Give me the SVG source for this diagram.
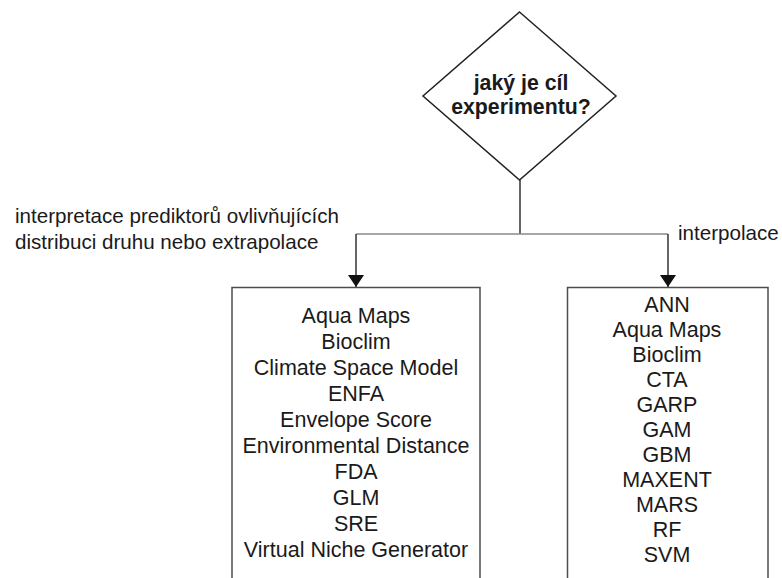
<svg xmlns="http://www.w3.org/2000/svg" width="782" height="578" viewBox="0 0 782 578">
<style>
text{font-family:"Liberation Sans",Arial,sans-serif;font-size:21.5px;fill:#1a1a1a}
.c{text-anchor:middle}
.b{font-weight:bold;font-size:21.3px}
.lbl{font-size:20.6px}
.shape{fill:#fff;stroke:#4d4d4d;stroke-width:1.5}
.dia{fill:#fff;stroke:#222;stroke-width:1.5}
.ln{fill:none;stroke:#333;stroke-width:1.5}
.hl{fill:none;stroke:#8a8a8a;stroke-width:1.3}
</style>
<defs>
<marker id="arr" viewBox="0 0 12 16" refX="12" refY="8" markerWidth="12" markerHeight="16" markerUnits="userSpaceOnUse" orient="auto">
<path d="M0,0 L12,8 L0,16 Z" fill="#111"/>
</marker>
</defs>
<rect width="782" height="578" fill="#fff"/>
<g id="connectors">
<path class="ln" d="M520,180 V234"/>
<path class="hl" d="M356,234 H668"/>
<path class="ln" d="M356,234 V287" marker-end="url(#arr)"/>
<path class="ln" d="M668,234 V287" marker-end="url(#arr)"/>
<text class="lbl" x="15" y="223">interpretace prediktorů ovlivňujících</text>
<text class="lbl" x="15" y="249">distribuci druhu nebo extrapolace</text>
<text class="lbl" x="678" y="240">interpolace</text>
</g>
<g id="decision">
<polygon class="dia" points="519.5,12 616,96 519.5,180 423,96"/>
<text class="c b" x="521" y="90">jaký je cíl</text>
<text class="c b" x="521" y="114">experimentu?</text>
</g>
<g id="box-left">
<rect class="shape" x="232" y="287.5" width="248" height="320"/>
<text class="c" x="356" y="323">Aqua Maps</text>
<text class="c" x="356" y="349">Bioclim</text>
<text class="c" x="356" y="375">Climate Space Model</text>
<text class="c" x="356" y="401">ENFA</text>
<text class="c" x="356" y="427">Envelope Score</text>
<text class="c" x="356" y="453">Environmental Distance</text>
<text class="c" x="356" y="479">FDA</text>
<text class="c" x="356" y="505">GLM</text>
<text class="c" x="356" y="531">SRE</text>
<text class="c" x="356" y="557">Virtual Niche Generator</text>
</g>
<g id="box-right">
<rect class="shape" x="567.5" y="287.5" width="200.5" height="320"/>
<text class="c" x="667" y="312">ANN</text>
<text class="c" x="667" y="337">Aqua Maps</text>
<text class="c" x="667" y="362">Bioclim</text>
<text class="c" x="667" y="387">CTA</text>
<text class="c" x="667" y="412">GARP</text>
<text class="c" x="667" y="437">GAM</text>
<text class="c" x="667" y="462">GBM</text>
<text class="c" x="667" y="487">MAXENT</text>
<text class="c" x="667" y="512">MARS</text>
<text class="c" x="667" y="537">RF</text>
<text class="c" x="667" y="562">SVM</text>
</g>
</svg>
